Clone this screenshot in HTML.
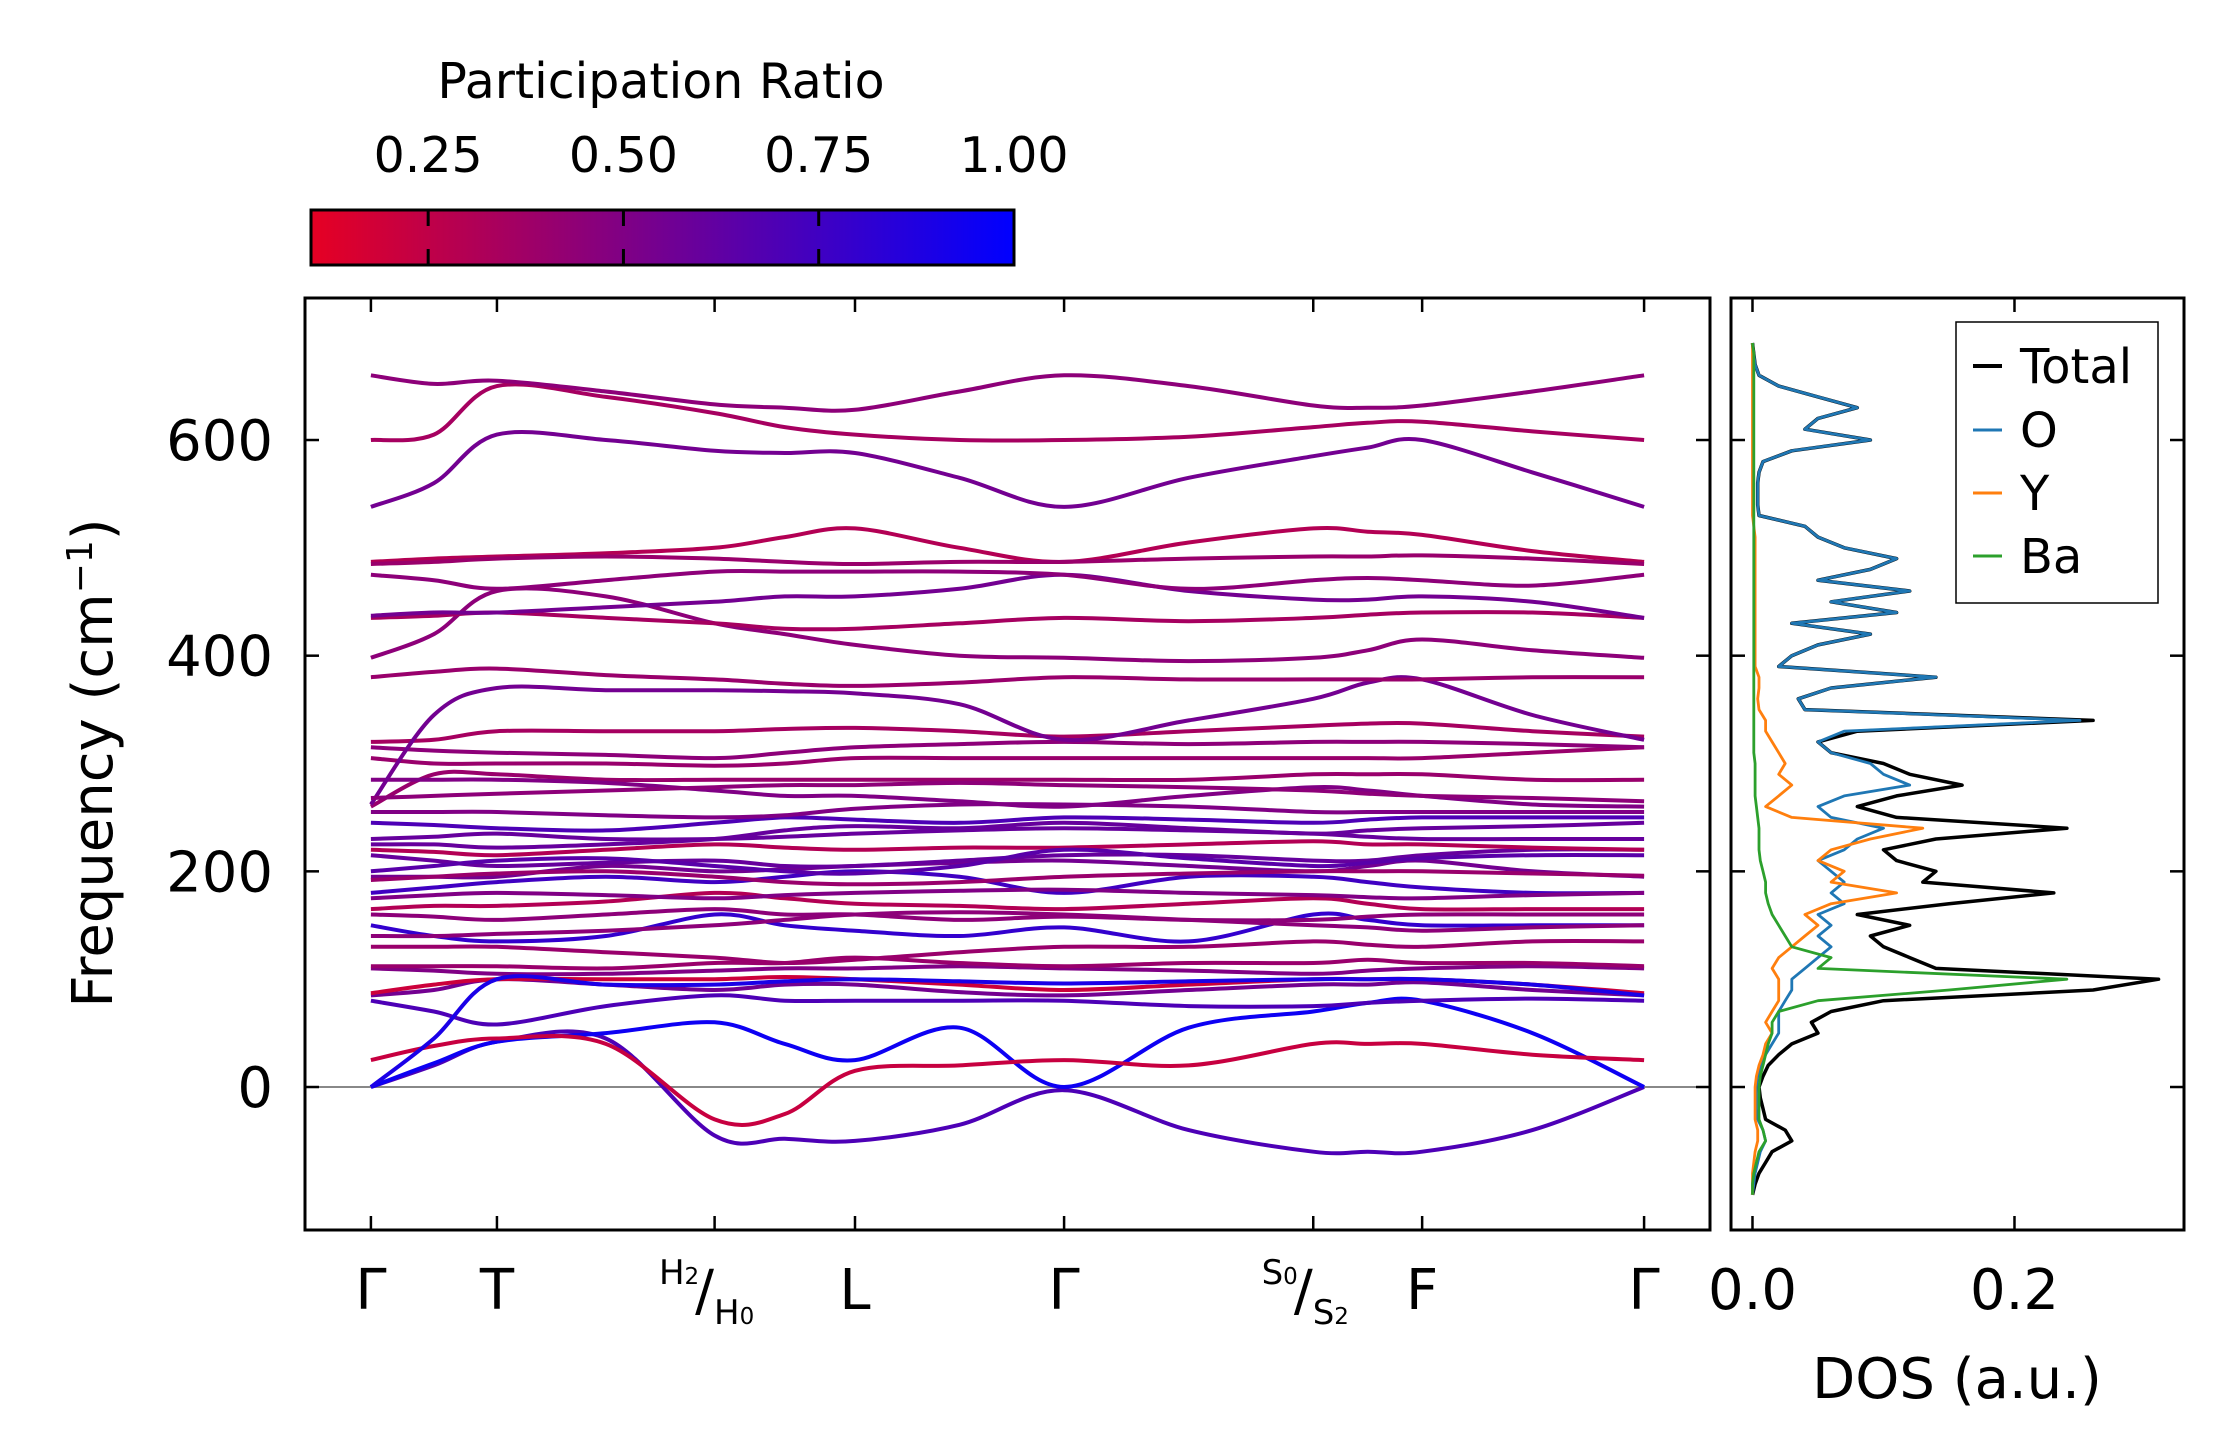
<!DOCTYPE html>
<html><head><meta charset="utf-8"><style>
html,body{margin:0;padding:0;background:#fff}
svg{display:block;font-family:"DejaVu Sans","Liberation Sans",sans-serif}
</style></head><body>
<svg id="fig" width="2222" height="1455" viewBox="0 0 2222 1455" xmlns="http://www.w3.org/2000/svg">
<defs>
<linearGradient id="cmap" x1="0" x2="1" y1="0" y2="0">
<stop offset="0" stop-color="rgb(230,0,35)"/><stop offset="1" stop-color="rgb(0,0,255)"/>
</linearGradient>
<clipPath id="mainclip"><rect x="305" y="298" width="1405" height="932"/></clipPath>
<clipPath id="dosclip"><rect x="1731" y="298" width="453" height="932"/></clipPath>
</defs>
<g>
<text x="661" y="98" font-size="49" text-anchor="middle">Participation Ratio</text>
<rect x="311" y="210" width="703" height="55" fill="url(#cmap)" stroke="#000" stroke-width="3"/>
<g id="cbticks"></g>
</g>
<g id="main"></g>
<g id="dos"></g>
</svg>
<script>
const NS='http://www.w3.org/2000/svg';
// ---- data ----
const kLabels=['Γ','T','H','L','Γ','S','F','Γ'];
const kTickDist=[0,1.0,2.727,3.841,5.5,7.477,8.341,10.102];
const kDist=[0,0.5,1.0,1.864,2.727,3.284,3.841,4.67,5.5,6.489,7.477,7.909,8.341,9.216,10.102];
const yTicks=[0,200,400,600];
const cbTicks=[0.25,0.5,0.75,1.0];
const bandPR=[0.7,0.95,0.22,0.7,0.55,0.2,0.5,0.4,0.4,0.8,0.45,0.3,0.75,0.55,0.6,0.3,0.6,0.7,0.5,0.4,0.5,0.4,0.45,0.35,0.55,0.4,0.45,0.35,0.55,0.45,0.3,0.4,0.55,0.35,0.45,0.6,0.45,0.5,0.4,0.9,0.65,0.45];
const bands=[
[0,20,42,45,-45,-48,-50,-35,-3,-40,-60,-60,-60,-40,0],
[0,22,42,50,60,40,25,55,0,55,70,78,80,50,0],
[25,38,45,40,-30,-25,15,20,25,20,40,40,40,30,25],
[80,70,58,75,85,80,80,80,80,75,75,78,80,82,80],
[85,90,100,95,90,95,95,88,85,90,95,95,97,90,85],
[87,95,100,100,100,102,100,95,90,95,100,100,100,95,87],
[110,108,105,105,108,110,110,112,110,108,105,108,110,112,110],
[112,112,112,110,115,115,120,115,112,115,115,118,115,115,112],
[130,130,130,125,120,115,118,125,130,130,135,132,130,135,135],
[150,140,135,140,160,150,145,140,148,135,160,155,150,150,150],
[160,158,155,160,165,160,160,155,158,155,155,158,160,160,160],
[165,168,168,172,180,175,170,168,165,170,175,170,165,165,165],
[180,185,190,195,190,195,200,195,180,195,195,190,185,180,180],
[195,195,195,205,200,202,205,208,210,205,200,205,210,200,195],
[215,210,205,208,210,205,205,210,215,215,210,210,215,220,220],
[220,218,215,220,225,222,220,222,222,225,228,225,225,222,220],
[230,232,235,230,230,232,235,238,240,238,235,232,230,230,230],
[245,243,240,238,245,250,248,245,250,248,245,248,250,250,250],
[255,255,255,252,250,252,258,262,262,260,255,255,255,255,255],
[260,290,290,285,285,285,285,285,285,285,290,290,290,285,285],
[285,285,285,282,275,270,270,265,260,270,278,275,270,262,260],
[305,300,300,300,298,300,305,305,305,305,305,305,305,310,315],
[315,312,310,308,305,310,315,318,320,318,320,320,320,318,315],
[320,322,330,330,330,332,333,330,325,330,335,337,337,330,325],
[262,345,370,368,368,367,365,355,322,340,360,375,378,345,322],
[380,385,388,382,378,374,372,375,380,378,378,378,378,380,380],
[398,420,460,455,430,420,410,400,398,395,398,405,415,405,398],
[435,437,440,435,430,425,425,430,435,432,435,438,440,440,435],
[437,440,440,445,450,455,455,462,475,460,452,452,455,450,435],
[475,470,462,470,478,478,478,478,475,462,470,472,470,465,475],
[487,490,492,495,500,510,518,500,487,505,518,515,512,497,487],
[485,487,490,492,490,487,485,487,487,490,492,492,493,490,485],
[538,560,605,600,590,588,588,565,538,565,585,593,600,570,538],
[600,605,650,640,625,612,605,600,600,603,612,616,617,608,600],
[660,652,655,645,633,630,628,645,660,650,632,630,632,645,660],
[225,225,222,225,230,238,242,240,245,240,235,238,240,242,245],
[140,140,142,145,150,155,160,162,160,155,150,148,145,148,150],
[175,178,180,178,175,178,180,182,183,180,178,176,175,178,180],
[192,195,198,200,195,190,188,190,195,198,200,200,200,198,196],
[0,45,100,95,95,98,100,98,96,98,100,100,100,95,85],
[200,205,210,212,205,200,198,205,220,212,205,208,212,215,215],
[268,270,272,275,278,280,280,282,280,278,275,272,270,268,265]
];
const dosFreq=[-100,-90,-80,-70,-60,-50,-40,-30,-20,-10,0,10,20,30,40,50,60,70,80,90,100,110,120,130,140,150,160,170,180,190,200,210,220,230,240,250,260,270,280,290,300,310,320,330,340,350,360,370,380,390,400,410,420,430,440,450,460,470,480,490,500,510,520,530,540,550,560,570,580,590,600,610,620,630,640,650,660,670,680,690];
const dosTotal=[0,0.002,0.005,0.01,0.015,0.03,0.025,0.01,0.008,0.006,0.005,0.008,0.012,0.02,0.03,0.05,0.045,0.06,0.1,0.26,0.31,0.14,0.12,0.1,0.09,0.12,0.08,0.15,0.23,0.13,0.14,0.11,0.1,0.14,0.24,0.11,0.08,0.11,0.16,0.12,0.1,0.06,0.05,0.08,0.26,0.04,0.035,0.06,0.14,0.02,0.03,0.05,0.09,0.03,0.11,0.06,0.12,0.05,0.09,0.11,0.07,0.05,0.04,0.005,0.004,0.004,0.004,0.005,0.008,0.03,0.09,0.04,0.05,0.08,0.05,0.02,0.005,0.002,0.001,0];
const dosO=[0,0.001,0.002,0.004,0.006,0.01,0.008,0.004,0.003,0.003,0.003,0.004,0.006,0.01,0.015,0.02,0.02,0.02,0.025,0.03,0.03,0.04,0.05,0.06,0.05,0.06,0.05,0.07,0.06,0.07,0.06,0.05,0.07,0.08,0.1,0.06,0.05,0.07,0.12,0.1,0.09,0.06,0.05,0.07,0.25,0.04,0.035,0.06,0.14,0.02,0.03,0.05,0.09,0.03,0.11,0.06,0.12,0.05,0.09,0.11,0.07,0.05,0.04,0.005,0.004,0.004,0.004,0.005,0.008,0.03,0.09,0.04,0.05,0.08,0.05,0.02,0.005,0.002,0.001,0];
const dosY=[0,0,0,0.001,0.002,0.004,0.004,0.002,0.002,0.002,0.002,0.003,0.005,0.008,0.01,0.015,0.01,0.015,0.02,0.02,0.02,0.015,0.02,0.03,0.04,0.05,0.04,0.06,0.11,0.06,0.07,0.05,0.06,0.09,0.13,0.03,0.01,0.02,0.03,0.02,0.025,0.02,0.015,0.01,0.01,0.005,0.004,0.005,0.005,0.002,0.002,0.002,0.002,0.002,0.002,0.002,0.002,0.002,0.002,0.002,0.002,0.002,0.001,0,0,0,0,0,0,0,0,0,0,0,0,0,0,0,0,0];
const dosBa=[0,0,0.001,0.003,0.005,0.01,0.008,0.005,0.005,0.005,0.005,0.006,0.008,0.01,0.012,0.015,0.015,0.02,0.05,0.15,0.24,0.05,0.06,0.03,0.025,0.02,0.015,0.012,0.01,0.01,0.008,0.006,0.005,0.005,0.005,0.004,0.003,0.002,0.002,0.002,0.002,0.001,0.001,0.001,0.001,0.001,0.001,0.001,0.001,0.001,0.001,0.001,0.001,0.001,0.001,0.001,0.001,0.001,0.001,0.001,0.001,0.001,0.001,0.001,0.001,0.001,0.001,0.001,0.001,0.001,0.001,0.001,0.001,0.001,0.001,0.001,0.001,0.001,0.001,0];
const dosTicks=[0.0,0.2];
// ---- axes ----
const MX0=305,MX1=1710,TOP=298,BOT=1230,DX0=1731,DX1=2184;
const kMin=-0.523,kMax=10.625,fMin=-132.6,fMax=731.7,dMin=-0.0164,dMax=0.3294;
const xK=k=>MX0+(k-kMin)/(kMax-kMin)*(MX1-MX0);
const yF=f=>BOT-(f-fMin)/(fMax-fMin)*(BOT-TOP);
const xD=d=>DX0+(d-dMin)/(dMax-dMin)*(DX1-DX0);
const cbX=v=>311+(v-0.1)/0.9*703;
function col(p){const t=Math.max(0,Math.min(1,(p-0.1)/0.9));return `rgb(${Math.round(230*(1-t))},0,${Math.round(35+220*t)})`;}
function mk(tag,attrs,parent,txt){const e=document.createElementNS(NS,tag);for(const k in attrs)e.setAttribute(k,attrs[k]);if(txt!==undefined)e.textContent=txt;parent.appendChild(e);return e;}
function spline(pts){let d=`M${pts[0][0].toFixed(1)},${pts[0][1].toFixed(1)}`;for(let i=0;i<pts.length-1;i++){const p0=pts[Math.max(0,i-1)],p1=pts[i],p2=pts[i+1],p3=pts[Math.min(pts.length-1,i+2)];const c1=[p1[0]+(p2[0]-p0[0])/6,p1[1]+(p2[1]-p0[1])/6],c2=[p2[0]-(p3[0]-p1[0])/6,p2[1]-(p3[1]-p1[1])/6];d+=`C${c1[0].toFixed(1)},${c1[1].toFixed(1)} ${c2[0].toFixed(1)},${c2[1].toFixed(1)} ${p2[0].toFixed(1)},${p2[1].toFixed(1)}`;}return d;}
// colorbar ticks
const cbt=document.getElementById('cbticks');
cbTicks.forEach(v=>{const x=cbX(v);
 if(v<1){const a=mk('line',{x1:x,x2:x,y1:210,y2:226,stroke:'#000','stroke-width':3},cbt);
 
 
 const b=mk('line',{x1:x,x2:x,y1:249,y2:265,stroke:'#000','stroke-width':3},cbt);
 
 }
 const t=mk('text',{x:x,y:172,'font-size':49,'text-anchor':'middle'},cbt,v.toFixed(2));
 
 
});
// main plot
const main=document.getElementById('main');
const zl=mk('line',{x1:MX0,x2:MX1,y1:yF(0),y2:yF(0),stroke:'#888','stroke-width':2},main);


const bg=mk('g',{'clip-path':'url(#mainclip)'},main);


bands.forEach((b,i)=>{const pts=b.map((f,j)=>[xK(kDist[j]),yF(f)]);
 const p=mk('path',{d:spline(pts),fill:'none',stroke:col(bandPR[i]),'stroke-width':4},bg);
 
 
});
const mf=mk('rect',{x:MX0,y:TOP,width:MX1-MX0,height:BOT-TOP,fill:'none',stroke:'#000','stroke-width':3},main);


kTickDist.forEach((k,i)=>{const x=xK(k);
 mk('line',{x1:x,x2:x,y1:BOT,y2:BOT-14,stroke:'#000','stroke-width':2.5},main);
 mk('line',{x1:x,x2:x,y1:TOP,y2:TOP+14,stroke:'#000','stroke-width':2.5},main);
 let t;
 if(kLabels[i]==='H'){t=mk('text',{x:x,y:1310,'font-size':56,'text-anchor':'middle'},main);
  t.innerHTML='<tspan font-size="34" dx="-8" dy="-26">H<tspan font-size="23">2</tspan></tspan><tspan dy="26" dx="-4">/</tspan><tspan font-size="34" dy="14">H<tspan font-size="23">0</tspan></tspan>';}
 else if(kLabels[i]==='S'){t=mk('text',{x:x,y:1310,'font-size':56,'text-anchor':'middle'},main);
  t.innerHTML='<tspan font-size="34" dx="-8" dy="-26">S<tspan font-size="23">0</tspan></tspan><tspan dy="26" dx="-4">/</tspan><tspan font-size="34" dy="14">S<tspan font-size="23">2</tspan></tspan>';}
 else t=mk('text',{x:x,y:1309,'font-size':56,'text-anchor':'middle'},main,kLabels[i]);
 
 
});
yTicks.forEach(f=>{const y=yF(f);
 mk('line',{x1:MX0,x2:MX0+14,y1:y,y2:y,stroke:'#000','stroke-width':2.5},main);
 mk('line',{x1:MX1,x2:MX1-14,y1:y,y2:y,stroke:'#000','stroke-width':2.5},main);
 mk('line',{x1:DX0,x2:DX0+14,y1:y,y2:y,stroke:'#000','stroke-width':2.5},main);
 mk('line',{x1:DX1,x2:DX1-14,y1:y,y2:y,stroke:'#000','stroke-width':2.5},main);
 const t=mk('text',{x:273,y:y+20,'font-size':56,'text-anchor':'end'},main,String(f));
 
 
});
const yl=mk('text',{x:0,y:0,'font-size':56,'text-anchor':'middle',transform:'translate(112,763) rotate(-90)'},main);
yl.innerHTML='Frequency (cm<tspan font-size="36" dy="-20">−1</tspan><tspan dy="20">)</tspan>';


// DOS
const dos=document.getElementById('dos');
const dg=mk('g',{'clip-path':'url(#dosclip)'},dos);
const series=[[dosTotal,'#000',3.5,'dos-total'],[dosO,'#1f77b4',2.8,'dos-o'],[dosY,'#ff7f0e',2.8,'dos-y'],[dosBa,'#2ca02c',2.8,'dos-ba']];
series.forEach(s=>{const d=s[0].map((v,i)=>(i?'L':'M')+xD(v).toFixed(1)+','+yF(dosFreq[i]).toFixed(1)).join('');
 const p=mk('path',{d:d,fill:'none',stroke:s[1],'stroke-width':s[2],'stroke-linejoin':'round'},dg);
 
 
});
const df=mk('rect',{x:DX0,y:TOP,width:DX1-DX0,height:BOT-TOP,fill:'none',stroke:'#000','stroke-width':3},dos);


dosTicks.forEach(v=>{const x=xD(v);
 mk('line',{x1:x,x2:x,y1:BOT,y2:BOT-14,stroke:'#000','stroke-width':2.5},dos);
 mk('line',{x1:x,x2:x,y1:TOP,y2:TOP+14,stroke:'#000','stroke-width':2.5},dos);
 const t=mk('text',{x:x,y:1309,'font-size':56,'text-anchor':'middle'},dos,v.toFixed(1));
 
 
});
const dl=mk('text',{x:1957,y:1398,'font-size':56,'text-anchor':'middle'},dos,'DOS (a.u.)');


// legend
const lg=mk('g',{},dos);


mk('rect',{x:1956,y:322,width:202,height:281,fill:'#fff',stroke:'#000','stroke-width':1.5},lg);
[['Total','#000',366],['O','#1f77b4',430],['Y','#ff7f0e',493],['Ba','#2ca02c',556]].forEach(e=>{
 const g=mk('g',{},lg);
 
 
 mk('line',{x1:1973,x2:2002,y1:e[2],y2:e[2],stroke:e[1],'stroke-width':e[0]==='Total'?4:3},g);
 mk('text',{x:2020,y:e[2]+17,'font-size':48},g,e[0]);
});
</script>
</body></html>
